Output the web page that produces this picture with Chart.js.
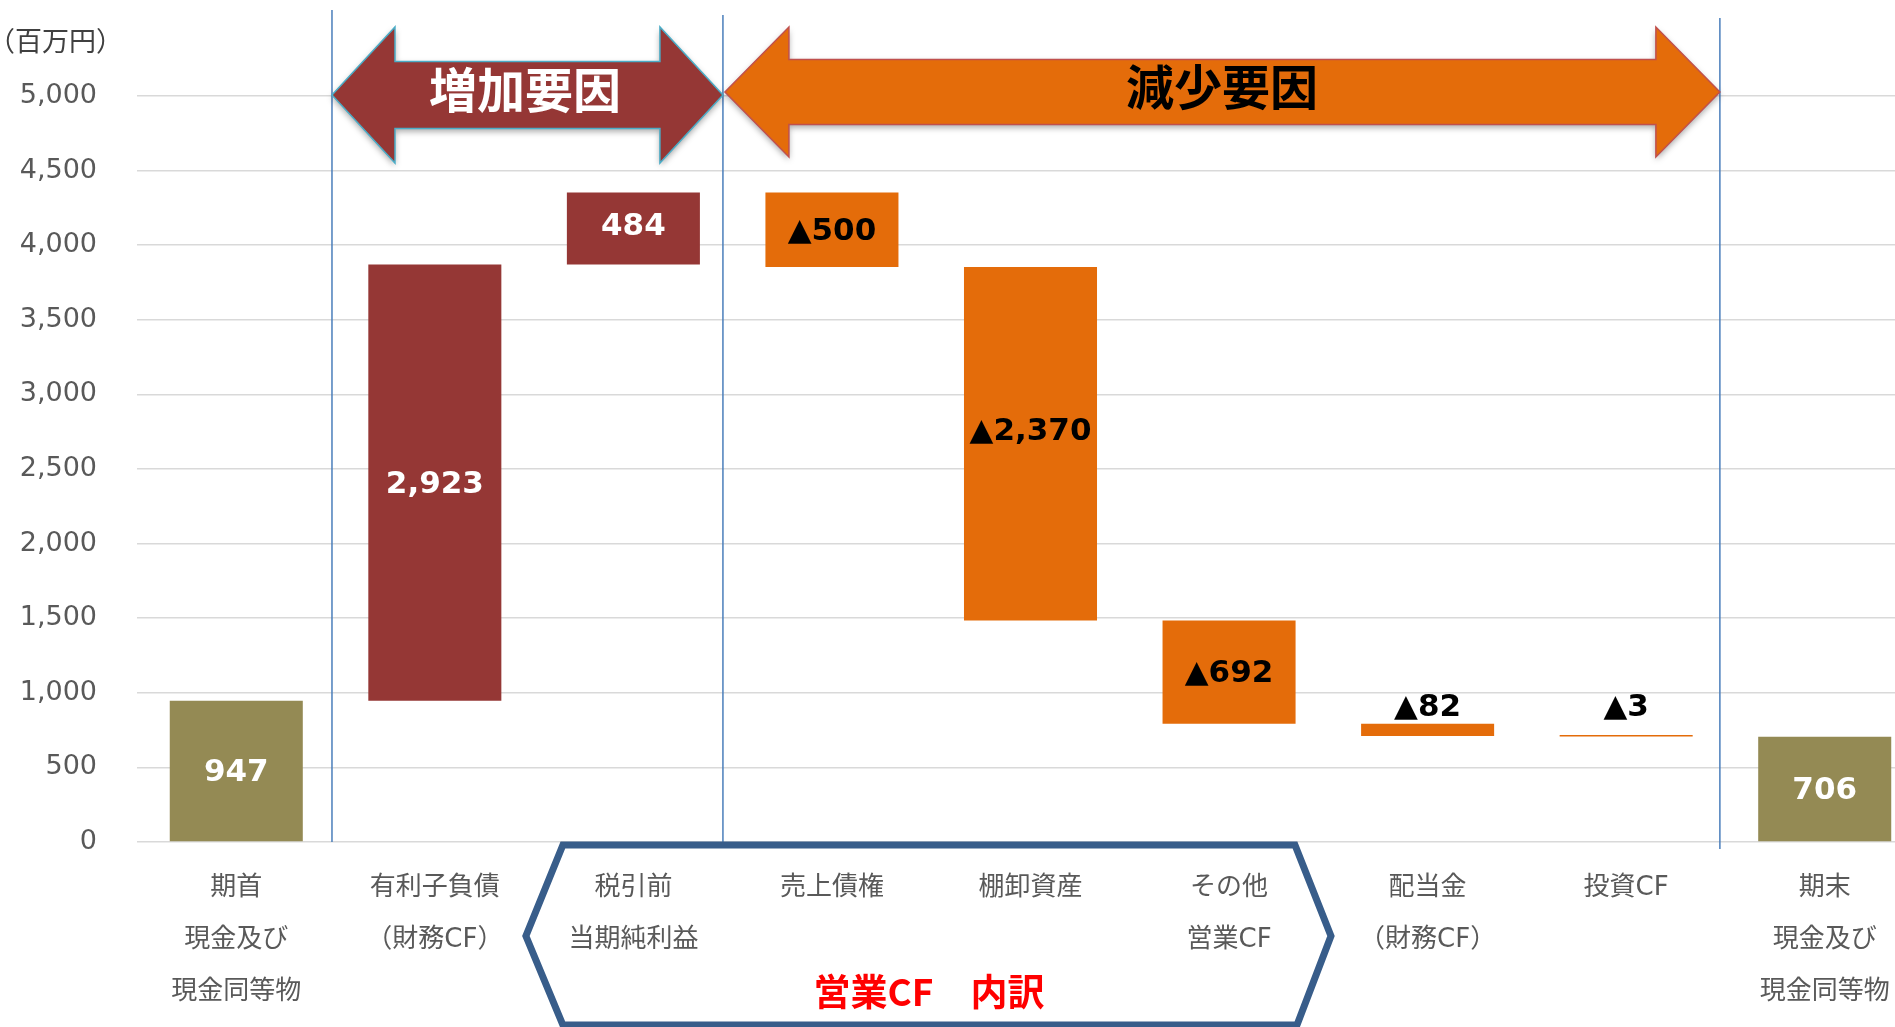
<!DOCTYPE html>
<html>
<head>
<meta charset="utf-8">
<script src="https://cdn.jsdelivr.net/npm/chart.js@4.4.1/dist/chart.umd.min.js"></script>
<style>
  html, body { margin: 0; padding: 0; background: #fff; overflow: hidden; }
  #wrap { width: 1940px; height: 1027px; }
</style>
</head>
<body>
<div id="wrap"><canvas id="myChart" width="1940" height="1027"></canvas></div>
<script>
// categories (x labels, one array entry per line)
const categories = [
  ['期首', '現金及び', '現金同等物'],
  ['有利子負債', '（財務CF）'],
  ['税引前', '当期純利益'],
  ['売上債権'],
  ['棚卸資産'],
  ['その他', '営業CF'],
  ['配当金', '（財務CF）'],
  ['投資CF'],
  ['期末', '現金及び', '現金同等物']
];
const openingCash = 947;
const changes = [2923, 484, -500, -2370, -692, -82, -3];
const closingCash = 706;
const yMax = 5000;
const yStep = 500;

const olive = '#948A54';
const darkRed = '#953735';
const orange = '#E46C0A';

// small nudges of the value labels (px, upward), as in the original
const labelLift = [0, 0, 4, 0, 14, 0, 0, 11, 0];

// build the floating bars
const ranges = [];
const values = [openingCash];
let level = openingCash;
ranges.push([0, openingCash]);
changes.forEach(c => {
  ranges.push([level, level + c]);
  values.push(c);
  level += c;
});
ranges.push([0, closingCash]);
values.push(closingCash);

const colors = values.map((v, i) => {
  if (i == 0 || i == values.length - 1) return olive;
  return v >= 0 ? darkRed : orange;
});

function fmt(v) {
  if (v < 0) return '▲' + Math.abs(v).toLocaleString('en-US');
  return v.toLocaleString('en-US');
}

const valueLabels = {
  id: 'valueLabels',
  afterDatasetsDraw(chart) {
    const ctx = chart.ctx;
    const meta = chart.getDatasetMeta(0);
    ctx.save();
    ctx.font = "bold 31px 'DejaVu Sans'";
    ctx.textAlign = 'center';
    meta.data.forEach((bar, i) => {
      const top = Math.min(bar.y, bar.base);
      const bottom = Math.max(bar.y, bar.base);
      ctx.fillStyle = colors[i] == orange ? '#000' : '#fff';
      if (bottom - top < 40) {
        ctx.fillStyle = '#000';
        ctx.textBaseline = 'alphabetic';
        ctx.fillText(fmt(values[i]), bar.x, top - 8 - labelLift[i]);
      } else {
        ctx.textBaseline = 'middle';
        ctx.fillText(fmt(values[i]), bar.x, (top + bottom) / 2 + 2 - labelLift[i]);
      }
    });
    ctx.restore();
  }
};

function doubleArrow(ctx, x1, x2, cy, headLen, headHalf, shaftHalf, fill, stroke) {
  ctx.beginPath();
  ctx.moveTo(x1, cy);
  ctx.lineTo(x1 + headLen, cy - headHalf);
  ctx.lineTo(x1 + headLen, cy - shaftHalf);
  ctx.lineTo(x2 - headLen, cy - shaftHalf);
  ctx.lineTo(x2 - headLen, cy - headHalf);
  ctx.lineTo(x2, cy);
  ctx.lineTo(x2 - headLen, cy + headHalf);
  ctx.lineTo(x2 - headLen, cy + shaftHalf);
  ctx.lineTo(x1 + headLen, cy + shaftHalf);
  ctx.lineTo(x1 + headLen, cy + headHalf);
  ctx.closePath();
  ctx.save();
  ctx.shadowColor = 'rgba(0,0,0,0.35)';
  ctx.shadowBlur = 6;
  ctx.shadowOffsetY = 3;
  ctx.fillStyle = fill;
  ctx.fill();
  ctx.restore();
  ctx.lineWidth = 1.5;
  ctx.strokeStyle = stroke;
  ctx.stroke();
}

const decorations = {
  id: 'decorations',
  afterDraw(chart) {
    const ctx = chart.ctx;
    const x = chart.scales.x;
    const px = v => x.getPixelForValue(v);
    ctx.save();

    // unit
    ctx.fillStyle = '#404040';
    ctx.font = "27px 'Noto Sans CJK JP'";
    ctx.textAlign = 'left';
    ctx.textBaseline = 'middle';
    ctx.fillText('（百万円）', -12, 41);

    // separator lines
    ctx.strokeStyle = '#4A7EBB';
    ctx.lineWidth = 1.5;
    [[0.482, 10, 842], [2.451, 15, 842], [7.472, 18, 849]].forEach(l => {
      ctx.beginPath();
      ctx.moveTo(px(l[0]), l[1]);
      ctx.lineTo(px(l[0]), l[2]);
      ctx.stroke();
    });

    // arrows
    doubleArrow(ctx, px(0.482), px(2.451), 95, 63, 68, 33.5, darkRed, '#4BACC6');
    doubleArrow(ctx, px(2.461), px(7.472), 92, 64, 65, 32.5, orange, '#C0504D');
    ctx.font = "bold 48px 'Noto Sans CJK JP'";
    ctx.textAlign = 'center';
    ctx.fillStyle = '#fff';
    ctx.fillText('増加要因', px(1.454), 90);
    ctx.fillStyle = '#000';
    ctx.fillText('減少要因', px(4.964), 87);

    // operating CF frame
    const l = px(1.645), r = px(5.332);
    ctx.beginPath();
    ctx.moveTo(l, 845);
    ctx.lineTo(r, 845);
    ctx.lineTo(r + 36, 936);
    ctx.lineTo(r + 2, 1025);
    ctx.lineTo(l, 1025);
    ctx.lineTo(l - 37, 936);
    ctx.closePath();
    ctx.lineWidth = 7;
    ctx.lineJoin = 'miter';
    ctx.strokeStyle = '#385D8A';
    ctx.stroke();
    ctx.fillStyle = '#FF0000';
    ctx.font = "bold 37px 'Noto Sans CJK JP'";
    ctx.fillText('営業CF　内訳', px(3.489), 992);

    ctx.restore();
  }
};

const data = {
  labels: categories,
  datasets: [{
    data: ranges,
    backgroundColor: colors,
    borderWidth: 0,
    barPercentage: 0.67,
    categoryPercentage: 1,
    minBarLength: 1.5
  }]
};

const config = {
  type: 'bar',
  data: data,
  options: {
    responsive: false,
    animation: false,
    devicePixelRatio: 1,
    layout: { padding: { top: 96, right: 16, left: 0, bottom: 0 } },
    plugins: {
      legend: { display: false },
      tooltip: { enabled: false }
    },
    scales: {
      x: {
        grid: { display: false, drawTicks: false },
        border: { display: false },
        ticks: {
          autoSkip: false,
          maxRotation: 0,
          padding: 20,
          color: '#595959',
          font: { family: "'DejaVu Sans', 'Noto Sans CJK JP'", size: 26, lineHeight: 2.0 }
        },
        afterFit(scale) { scale.height = 185; }
      },
      y: {
        min: 0,
        max: yMax,
        grid: { color: '#D9D9D9', lineWidth: 1.5, drawTicks: false },
        border: { display: false },
        ticks: {
          stepSize: yStep,
          padding: 40,
          color: '#595959',
          font: { family: "'DejaVu Sans'", size: 27 },
          callback: v => v.toLocaleString('en-US')
        },
        afterFit(scale) { scale.width = 137; }
      }
    }
  },
  plugins: [valueLabels, decorations]
};

const ctx1 = document.getElementById('myChart');
new Chart(ctx1, config);
</script>
</body>
</html>
